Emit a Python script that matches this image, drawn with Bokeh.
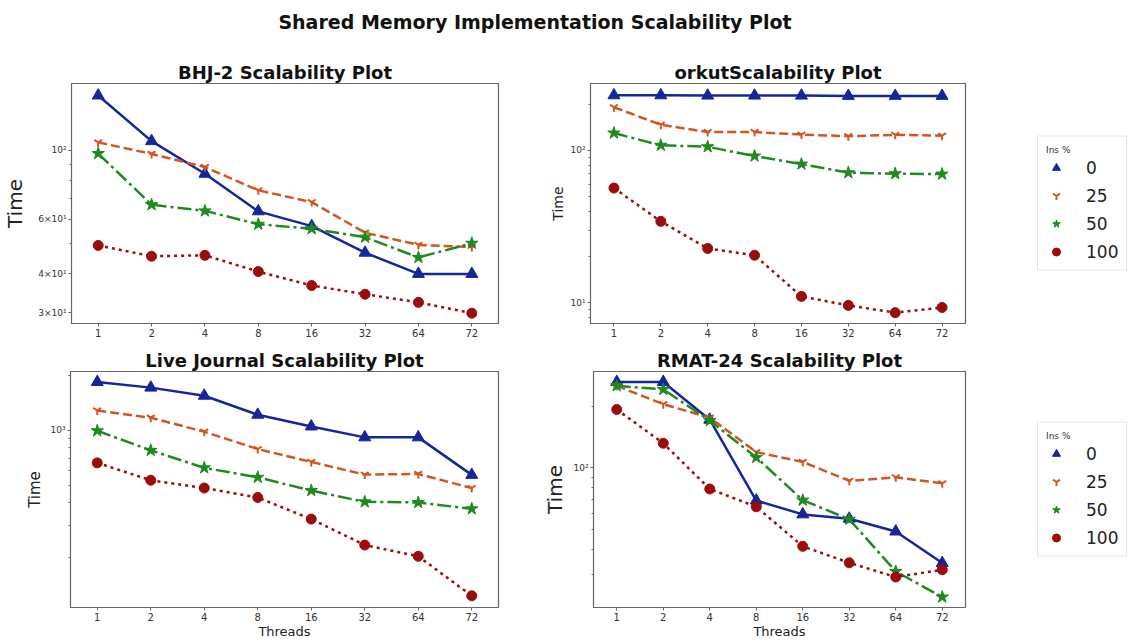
from bokeh.plotting import figure
from bokeh.models import Range1d, FixedTicker, Legend, LegendItem, Div
from bokeh.layouts import column, row
from bokeh.embed import file_html
from bokeh.resources import INLINE

# ---------------- data ----------------
threads = ["1", "2", "4", "8", "16", "32", "64", "72"]
ins_labels = ["0", "25", "50", "100"]
legend_title = "Ins %"

bhj_0 = [150, 107, 84, 63.6, 57, 46.8, 40, 40]
bhj_25 = [106, 97.3, 88.3, 74.3, 68.1, 54.3, 49.6, 48.8]
bhj_50 = [97.6, 66.8, 63.8, 57.8, 55.9, 52.5, 45.2, 50.2]
bhj_100 = [49.4, 45.6, 45.9, 40.7, 36.7, 34.4, 32.4, 29.9]

orkut_0 = [230, 230, 229, 229, 229, 228, 228, 228]
orkut_25 = [192, 147.5, 132, 132, 127, 124, 126.5, 124.8]
orkut_50 = [130, 108, 105.7, 91.8, 81.3, 71.4, 70.3, 69.9]
orkut_100 = [56.6, 34.2, 22.7, 20.5, 11.0, 9.6, 8.6, 9.3]

lj_0 = [1834, 1709, 1543, 1214, 1047, 913, 913, 569]
lj_25 = [1281, 1170, 980, 788, 670, 571, 576, 482]
lj_50 = [992, 775, 622, 552, 467, 405, 402, 371]
lj_100 = [662, 532, 482, 428, 326, 235, 204, 124]

rmat_0 = [263, 263, 172, 69.3, 59.3, 56.5, 48.9, 34.3]
rmat_25 = [252, 205, 176, 119.5, 107, 86.5, 90, 84.1]
rmat_50 = [252, 242, 170.5, 112.6, 69.6, 56.1, 31.2, 23.4]
rmat_100 = [193, 132, 78.9, 64.6, 41.4, 34.4, 29.3, 31.8]

# y tick values and labels
bhj_ticks = [30, 40, 60, 100]
bhj_tick_labels = ["3×10¹", "4×10¹", "6×10¹", "10²"]
bhj_minor = [50, 70, 80, 90]
orkut_ticks = [10, 100]
orkut_tick_labels = ["10¹", "10²"]
orkut_minor = [8, 9, 20, 30, 40, 50, 60, 70, 80, 90, 200]
lj_ticks = [1000]
lj_tick_labels = ["10³"]
lj_minor = [200, 300, 400, 500, 600, 700, 800, 900, 2000]
rmat_ticks = [100]
rmat_tick_labels = ["10²"]
rmat_minor = [30, 40, 50, 60, 70, 80, 90, 200]

# ---------------- styles ----------------
COLORS = ["#14269a", "#d2561e", "#1f8a1f", "#9b0d0d"]
DASHES = ["solid", "9 4", "14 4 3 4", "3 4"]
MARKERS = ["triangle", "y", "star", "circle"]
MSIZES = [12, 9, 13, 10]
FONT = "DejaVu Sans"


def make_plot(title, series, y_start, y_end, ticks, tick_labels, minor,
              ylabel_size, ylabel_standoff, width, height, borders,
              xlabel=None):
    left, right, top, bottom = borders
    p = figure(width=width, height=height, x_range=threads, y_axis_type="log",
               y_range=Range1d(y_start, y_end), output_backend="svg",
               toolbar_location=None, min_border_left=left,
               min_border_right=right, min_border_top=top,
               min_border_bottom=bottom, background_fill_color="white",
               border_fill_color="white")
    p.title.text = title
    p.title.align = "center"
    p.title.text_font = FONT
    p.title.text_font_size = "18px"
    p.title.text_font_style = "bold"
    p.title.text_color = "#111111"
    p.title.standoff = 1
    p.xgrid.visible = False
    p.ygrid.visible = False
    p.outline_line_color = "#666666"
    p.outline_line_width = 1.2

    for ax in (p.xaxis, p.yaxis):
        ax.axis_line_color = "#666666"
        ax.major_tick_line_color = "#666666"
        ax.minor_tick_line_color = "#666666"
        ax.major_tick_in = 0
        ax.major_tick_out = 3
        ax.minor_tick_in = 0
        ax.minor_tick_out = 2
        ax.major_label_text_font = FONT
        ax.major_label_text_color = "#333333"
        ax.major_label_standoff = 2
        ax.axis_label_text_font = FONT
        ax.axis_label_text_font_style = "normal"
        ax.axis_label_text_color = "#222222"

    p.xaxis.major_label_text_font_size = "10px"
    p.yaxis.major_label_text_font_size = "9px"
    p.yaxis.ticker = FixedTicker(ticks=ticks, minor_ticks=minor)
    p.yaxis.major_label_overrides = dict(zip(ticks, tick_labels))
    p.yaxis.axis_label = "Time"
    p.yaxis.axis_label_text_font_size = f"{ylabel_size}px"
    p.yaxis.axis_label_standoff = ylabel_standoff
    if xlabel:
        p.xaxis.axis_label = xlabel
        p.xaxis.axis_label_text_font_size = "13px"
        p.xaxis.axis_label_standoff = 0

    for i, ys in enumerate(series):
        p.line(threads, ys, line_color=COLORS[i], line_width=2.5,
               line_dash=DASHES[i])
        p.scatter(threads, ys, marker=MARKERS[i], size=MSIZES[i],
                  fill_color=COLORS[i], line_color=COLORS[i],
                  line_width=2 if MARKERS[i] == "y" else 1)
    return p


def make_legend_panel(width, height, series):
    # a plot that only carries the legend; its key glyphs use the series'
    # first values, which lie outside this plot's 0..1 view
    lp = figure(width=width, height=height, x_range=Range1d(0, 1),
                y_range=Range1d(0, 1), output_backend="svg", title=None,
                toolbar_location=None, min_border=0,
                x_axis_location=None, y_axis_location=None,
                background_fill_color="white", border_fill_color="white")
    lp.outline_line_color = None
    lp.xgrid.visible = False
    lp.ygrid.visible = False
    items = []
    for i, lab in enumerate(ins_labels):
        r = lp.scatter([series[i][0]], [series[i][0]], marker=MARKERS[i],
                       size=MSIZES[i], fill_color=COLORS[i],
                       line_color=COLORS[i],
                       line_width=2 if MARKERS[i] == "y" else 1)
        items.append(LegendItem(label=lab, renderers=[r]))
    lg = Legend(items=items, location="center_left", margin=70,
                title=legend_title, title_text_font=FONT,
                title_text_font_size="9px", title_text_font_style="normal",
                title_text_color="#333333", title_standoff=3,
                label_text_font=FONT, label_text_font_size="17px",
                label_text_color="#222222", label_height=20,
                glyph_height=20, glyph_width=20, label_standoff=20,
                spacing=8, padding=8, border_line_color="#cccccc",
                border_line_width=1, background_fill_alpha=0.9)
    lp.add_layout(lg, "center")
    return lp


orkut_series = [orkut_0, orkut_25, orkut_50, orkut_100]
rmat_series = [rmat_0, rmat_25, rmat_50, rmat_100]

p1 = make_plot("BHJ-2 Scalability Plot", [bhj_0, bhj_25, bhj_50, bhj_100],
               27.7, 164, bhj_ticks, bhj_tick_labels, bhj_minor, 20, 8,
               540, 295, (70, 42, 33, 22))
p2 = make_plot("orkutScalability Plot", orkut_series,
               7.3, 275, orkut_ticks, orkut_tick_labels, orkut_minor, 14, 1,
               427, 295, (50, 2, 33, 22))
l2 = make_legend_panel(172, 295, orkut_series)
p3 = make_plot("Live Journal Scalability Plot", [lj_0, lj_25, lj_50, lj_100],
               107, 2094, lj_ticks, lj_tick_labels, lj_minor, 15, 3,
               540, 296, (70, 42, 26, 32), xlabel="Threads")
p4 = make_plot("RMAT-24 Scalability Plot", rmat_series,
               20.8, 296, rmat_ticks, rmat_tick_labels, rmat_minor, 20, 3,
               427, 296, (50, 2, 26, 32), xlabel="Threads")
l4 = make_legend_panel(172, 296, rmat_series)

title_div = Div(
    text=('<div style="width:1070px;text-align:center;font-family:\'DejaVu Sans\';'
          'font-weight:bold;font-size:19px;line-height:22px;padding-top:11px;'
          'color:#111111">Shared Memory Implementation Scalability Plot</div>'),
    width=1139, height=50, margin=0)

layout = column(title_div, row(p1, p2, l2, spacing=0),
                row(p3, p4, l4, spacing=0), spacing=0)

open("out.html", "w").write(file_html(layout, INLINE))
